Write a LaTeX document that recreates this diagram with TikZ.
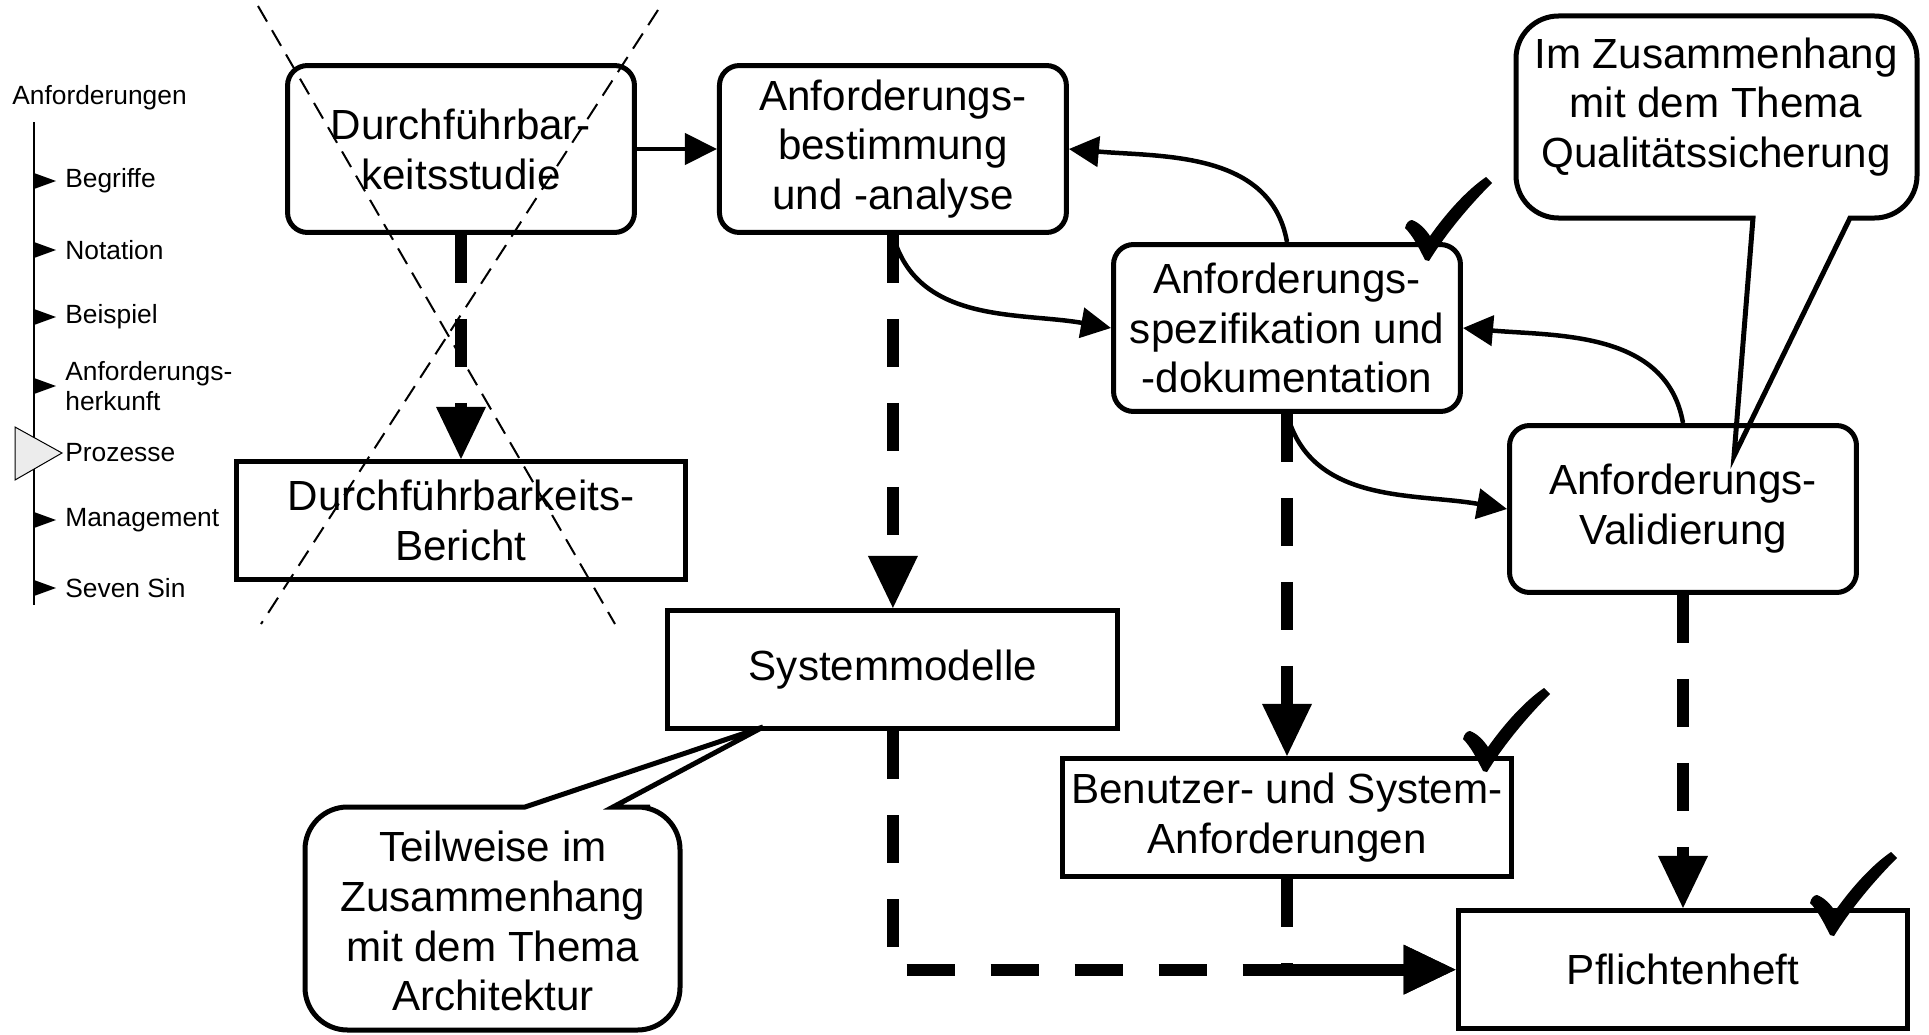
\documentclass[tikz,border=0pt]{standalone}
\usepackage{fontspec}
\setmainfont{Liberation Sans}
\usepackage{tikz}
\usetikzlibrary{positioning}
\usetikzlibrary{arrows.meta}

\newcommand{\kastenschrift}{\fontsize{24}{28.4}\selectfont}
\newcommand{\navschrift}{\fontsize{15}{16.8}\selectfont}

\tikzset{
	prozess/.style={draw,
		line width=0.1cm,
		rounded corners=0.4cm,
		minimum width=6.94cm,
		minimum height=3.34cm,
		align=center,
		inner sep=0pt,
		font=\kastenschrift},
	dokument/.style={draw,
		line width=0.1cm,
		minimum width=9cm,
		minimum height=2.37cm,
		align=center,
		inner sep=0pt,
		font=\kastenschrift},
	sprechtext/.style={align=center, inner sep=0pt, font=\kastenschrift},
	navtext/.style={anchor=west, align=left, inner sep=0pt, font=\navschrift},
	pfeil/.style={line width=0.09cm, -{Triangle[length=0.64cm,width=0.62cm]}},
	bogen/.style={line width=0.09cm, -{Triangle[length=0.6cm,width=0.6cm]}},
	strich/.style={line width=0.24cm, dash pattern=on 0.96cm off 0.72cm,
		-{Triangle[length=1.04cm,width=1cm,line width=0pt]}},
	kreuz/.style={line width=0.04cm, dash pattern=on 0.36cm off 0.2cm},
	haken/.pic={\fill (0,0) .. controls (-6,12) and (-12,24) .. (-20,32)
		.. controls (-19,37) and (-16,40) .. (-13,40)
		.. controls (-5,37) and (1,30) .. (5,24)
		.. controls (22,48) and (42,70) .. (61,83) -- (67,77)
		.. controls (45,55) and (22,28) .. (4,-1) -- cycle;},
	navpfeil/.pic={\fill (0,8) -- (22,0) -- (0,-8) -- cycle;}
}

\begin{document}
\begin{tikzpicture}[x=0.02cm, y=0.02cm]
			\useasboundingbox (0,0) rectangle (1929,-1034);

			% Navigation
			\node [navtext] (anf) at (12,-98) {Anforderungen};
			\draw [line width=0.04cm] (34,-122) -- (34,-605);
			\node [navtext] (begriffe) at (65,-181) {Begriffe};
			\node [navtext] (notation) at (65,-250) {Notation};
			\node [navtext] (beispiel) at (65,-317) {Beispiel};
			\node [navtext] (herkunft) at (65,-386) {Anforderungs-\\herkunft};
			\node [navtext] (prozesse) at (65,-453) {Prozesse};
			\node [navtext] (management) at (65,-520) {Management};
			\node [navtext] (sevensin) at (65,-588) {Seven Sin};
			\pic at (34,-181) {navpfeil};
			\pic at (34,-250) {navpfeil};
			\pic at (34,-317) {navpfeil};
			\pic at (34,-386) {navpfeil};
			\pic at (34,-520) {navpfeil};
			\pic at (34,-588) {navpfeil};
			\filldraw [fill=gray!15, line width=0.02cm] (15,-427) -- (62,-453) -- (15,-480) -- cycle;

			% Durchfuehrbarkeitsstudie
			\node [prozess] (studie) at (461,-149) {Durchführbar-\\keitsstudie};

			% Anforderungsbestimmung
			\node [prozess,
				right=1.6cm of studie
				] (analyse) {Anforderungs-\\bestimmung\\und -analyse};

			% Spezifikation
			\node [prozess] (spez) at (1287,-328) {Anforderungs-\\spezifikation und\\-dokumentation};

			% Validierung
			\node [prozess] (valid) at (1683,-509) {Anforderungs-\\Validierung};

			% Dokumente
			\node [dokument,
				below=4.48cm of studie
				] (bericht) {Durchführbarkeits-\\Bericht};
			\node [dokument,
				below=7.46cm of analyse
				] (sysmod) {Systemmodelle};
			\node [dokument,
				below=6.84cm of spez
				] (benanf) {Benutzer- und System-\\Anforderungen};
			\node [dokument,
				below=6.26cm of valid
				] (pflicht) {Pflichtenheft};

			% Arrows
			\draw [pfeil] (studie) -- (analyse);
			\draw [bogen] (analyse.south) to[out=-75, in=170] (spez.west);
			\draw [bogen] (spez.north) to[out=100, in=-5] (analyse.east);
			\draw [bogen] (spez.south) to[out=-75, in=170] (valid.west);
			\draw [bogen] (valid.north) to[out=100, in=-5] (spez.east);
			\draw [strich] (studie) -- (bericht);
			\draw [strich] (analyse) -- (sysmod);
			\draw [strich] (spez) -- (benanf);
			\draw [strich] (valid) -- (pflicht);
			\draw [strich] (sysmod) |- (pflicht);
			\draw [strich] (benanf) |- (pflicht);

			% Haken
			\pic at (1425,-260) {haken};
			\pic at (1483,-771) {haken};
			\pic at (1830,-935) {haken};

			% Sprechblasen
			\node [sprechtext] (qtext) at (1716,-107) {Im Zusammenhang\\mit dem Thema\\Qualitätssicherung};
			\coordinate (qspitze) at (1734,-456);
			\draw [line width=0.1cm] (qspitze) -- (1753,-218) -- (1600,-218) [rounded corners=0.85cm]
				-| (1516,-16) -| (1917,-218) [sharp corners] -- (1850,-218) -- cycle;

			\node [sprechtext] (ttext) at (493,-921) {Teilweise im\\Zusammenhang\\mit dem Thema\\Architektur};
			\coordinate (tspitze) at (763,-727);
			\draw [line width=0.1cm] (tspitze) -- (613,-807) -- (650,-807) [rounded corners=0.85cm]
				-| (680,-1030) -| (305,-807) [sharp corners] -- (525,-807) -- cycle;

			% Kreuz
			\draw [kreuz] (258,-6) -- (615,-624);
			\draw [kreuz] (658,-10) -- (261,-624);

		\end{tikzpicture}
\end{document}
